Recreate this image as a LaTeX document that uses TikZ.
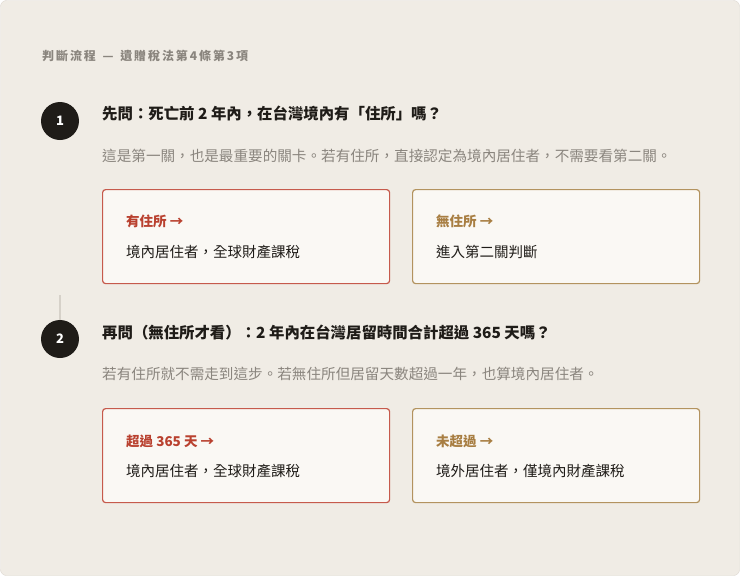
\documentclass[tikz,border=0pt]{standalone}
\usepackage{fontspec}
\setmainfont{Noto Sans CJK TC}
\usetikzlibrary{positioning}
\definecolor{paper}{HTML}{F0ECE5}
\definecolor{frameln}{HTML}{DCD7CF}
\definecolor{cardbg}{HTML}{FAF8F4}
\definecolor{inkdark}{HTML}{1F1C18}
\definecolor{inkgrey}{HTML}{8A857E}
\definecolor{yesred}{HTML}{B9412F}
\definecolor{yesredln}{HTML}{C65A4C}
\definecolor{nogold}{HTML}{A87E42}
\definecolor{nogoldln}{HTML}{B3935F}
\definecolor{stemln}{HTML}{D6D1C9}
\tikzset{
  stepnum/.style={circle,fill=inkdark,text=white,minimum size=38pt,inner sep=0pt,font=\fontsize{13}{13}\selectfont\bfseries},
  heading/.style={anchor=west,inner sep=0pt,text=inkdark,font=\fontsize{15.4}{16}\selectfont\bfseries},
  desc/.style={anchor=west,inner sep=0pt,text=inkgrey,font=\fontsize{14.6}{16}\selectfont},
  cardbox/.style={draw,fill=cardbg,rounded corners=3pt,line width=1.2pt,minimum width=287pt,minimum height=94pt,inner sep=0pt,anchor=north west},
  cardlbl/.style={anchor=west,inner sep=0pt,font=\fontsize{13.5}{14}\selectfont\bfseries},
  cardtxt/.style={anchor=west,inner sep=0pt,text=inkdark,font=\fontsize{14.5}{15}\selectfont},
}
\begin{document}
\begin{tikzpicture}[x=1pt,y=-1pt]
			%%%%% START %%%%%
			\useasboundingbox (0,0) rectangle (740,576);
			\draw[fill=paper,draw=frameln,rounded corners=6pt] (0.5,0.5) rectangle (739.5,575.5);
			
			\node[anchor=west,inner sep=0pt,text=inkgrey,font=\fontsize{12}{12}\selectfont\bfseries\addfontfeatures{LetterSpace=16}] (title) at (42,56) {判斷流程 \,—\, 遺贈稅法第4條第3項};
			
			% first question
			\node[stepnum] (n1) at (60,121) {1};
			\node[heading] (q1) at (102,114) {先問：死亡前 2 年內，在台灣境內有「住所」嗎？};
			\node[desc] (d1) at (102,156) {這是第一關，也是最重要的關卡。若有住所，直接認定為境內居住者，不需要看第二關。};
			
			\node[cardbox,draw=yesredln] (b1a) at (102,189) {};
			\node[cardbox,draw=nogoldln] (b1b) at (412,189) {};
			\node[cardlbl,text=yesred] (b1aLbl) at (126,221) {有住所 →};
			\node[cardtxt] (b1aTxt) at (126,252) {境內居住者，全球財產課稅};
			\node[cardlbl,text=nogold] (b1bLbl) at (436,221) {無住所 →};
			\node[cardtxt] (b1bTxt) at (436,252) {進入第二關判斷};
			
			% second question
			\node[stepnum] (n2) at (60,339) {2};
			\coordinate (stemTop) at (60,295);
			\draw[stemln,line width=1.2pt] (stemTop) -- (n2.north);
			\node[heading] (q2) at (102,333) {再問（無住所才看）：2 年內在台灣居留時間合計超過 365 天嗎？};
			\node[desc] (d2) at (102,374) {若有住所就不需走到這步。若無住所但居留天數超過一年，也算境內居住者。};
			
			\node[cardbox,draw=yesredln] (b2a) at (102,408) {};
			\node[cardbox,draw=nogoldln] (b2b) at (412,408) {};
			\node[cardlbl,text=yesred] (b2aLbl) at (126,441) {超過 365 天 →};
			\node[cardtxt] (b2aTxt) at (126,471) {境內居住者，全球財產課稅};
			\node[cardlbl,text=nogold] (b2bLbl) at (436,441) {未超過 →};
			\node[cardtxt] (b2bTxt) at (436,471) {境外居住者，僅境內財產課稅};
			%%%%% END %%%%%
\end{tikzpicture}
\end{document}
